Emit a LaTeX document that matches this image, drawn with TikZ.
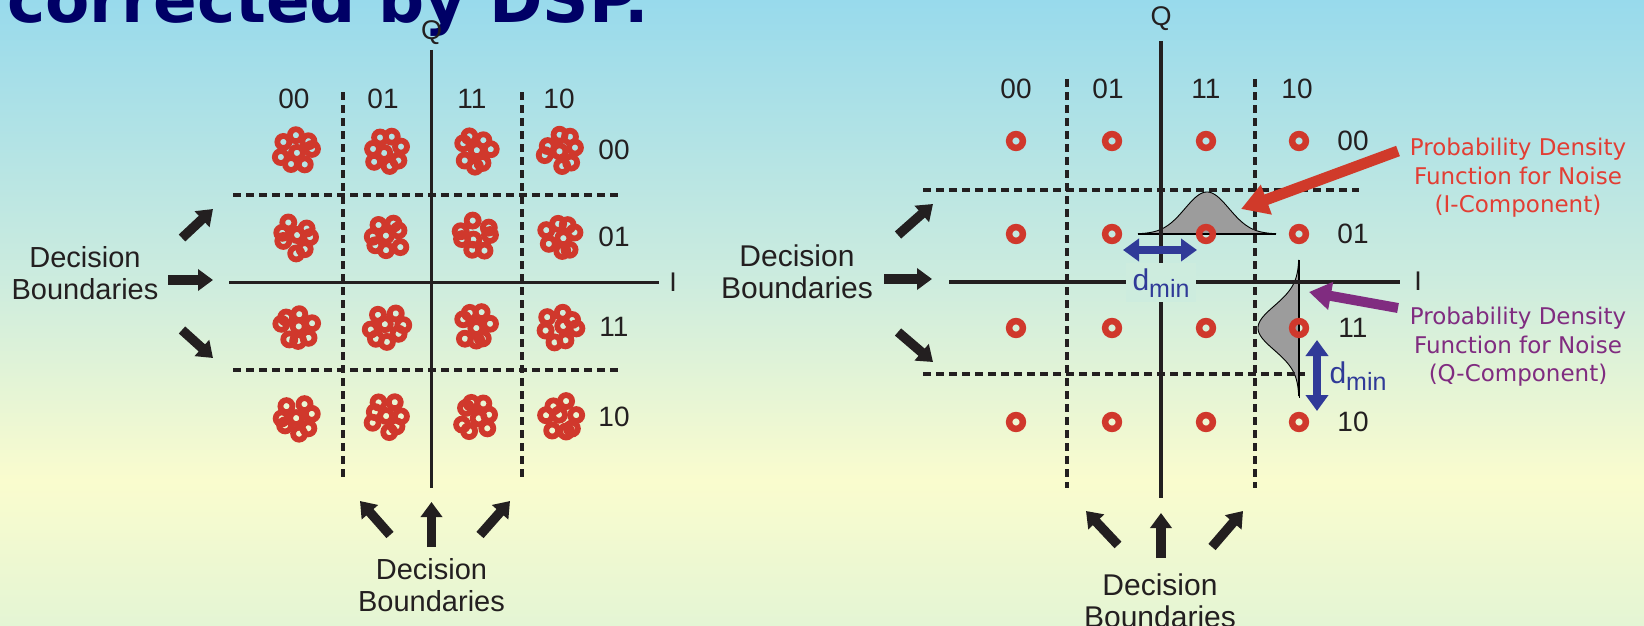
\documentclass[tikz,border=0pt]{standalone}
\usepackage{fontspec}
\setmainfont{Liberation Sans}
\newfontfamily\dvsans{DejaVu Sans}
\usetikzlibrary{arrows.meta}
\definecolor{bgT}{RGB}{152,218,236}
\definecolor{bgM}{RGB}{205,236,222}
\definecolor{bgY}{RGB}{250,252,206}
\definecolor{bgB}{RGB}{228,245,212}
\definecolor{navy}{RGB}{0,0,102}
\definecolor{ink}{RGB}{35,31,32}
\definecolor{dotred}{RGB}{208,56,44}
\definecolor{txtred}{RGB}{226,62,52}
\definecolor{arrred}{RGB}{208,58,42}
\definecolor{purp}{RGB}{128,44,128}
\definecolor{dblue}{RGB}{48,58,152}
\definecolor{pdfgray}{RGB}{156,156,156}
\newcommand\dminlbl{d\raisebox{-7pt}{\fontsize{25}{25}\selectfont min}}
\begin{document}
\begin{tikzpicture}[x=1pt,y=-1pt,
  lbl/.style={text=ink, inner sep=0pt, font=\fontsize{28}{28}\selectfont},
  axlbl/.style={text=ink, inner sep=0pt, font=\fontsize{27}{27}\selectfont},
  dbtext/.style={text=ink, inner sep=0pt, align=center, font=\fontsize{29}{31.5}\selectfont},
  dbtextR/.style={text=ink, inner sep=0pt, align=center, font=\fontsize{30}{32}\selectfont},
  axisline/.style={draw=ink, line width=3.3pt},
  bound/.style={draw=ink, line width=3.9pt, dash pattern=on 8pt off 5pt},
  fatarrow/.style={draw=ink, line width=9.5pt, -{Triangle[length=15pt,width=21pt]}},
  ring/.style={draw=dotred, line width=5.8pt},
  dotring/.style={draw=dotred, line width=6.5pt},
  pdfcurve/.style={fill=pdfgray, draw=black, line width=0.9pt},
  pdftext/.style={inner sep=0pt, align=center, font=\dvsans\fontsize{23}{28.5}\selectfont},
  dminarrow/.style={draw=dblue, line width=8pt, {Triangle[length=16pt,width=22pt]}-{Triangle[length=16pt,width=22pt]}},
  dmintext/.style={text=dblue, font=\fontsize{30}{30}\selectfont},
]
\useasboundingbox (0,0) rectangle (1644,626);
% background
\shade[top color=bgT, bottom color=bgM] (0,0) rectangle (1644,283);
\shade[top color=bgM, bottom color=bgY] (0,282) rectangle (1644,481);
\shade[top color=bgY, bottom color=bgB] (0,480) rectangle (1644,626);

% title
\node[anchor=base west, inner sep=0pt, text=navy, font=\dvsans\bfseries\fontsize{64.5}{64.5}\selectfont] (title) at (7,23) {corrected by DSP.};

%================ LEFT DIAGRAM ================
\draw[bound] (343,92) -- (343,478);
\draw[bound] (522,92) -- (522,478);
\draw[bound] (233,195) -- (619,195);
\draw[bound] (233,370) -- (619,370);
\draw[axisline] (431.5,50) -- (431.5,488);
\draw[axisline] (229,282.5) -- (659,282.5);
\node[axlbl] (qL) at (431.5,33) {Q};
\node[axlbl] (iL) at (673,282) {I};
\node[lbl] (cL1) at (294,99) {00};
\node[lbl] (cL2) at (383,99) {01};
\node[lbl] (cL3) at (472,99) {11};
\node[lbl] (cL4) at (559,99) {10};
\node[lbl] (rL1) at (614,150) {00};
\node[lbl] (rL2) at (614,237) {01};
\node[lbl] (rL3) at (614,327) {11};
\node[lbl] (rL4) at (614,417) {10};
\pgfmathsetseed{4242}
\foreach \cx in {296,387,476,561}{
  \foreach \cy in {151,237,327,417}{
    \pgfmathsetmacro\ox{\cx+3*rand}
    \pgfmathsetmacro\oy{\cy+3*rand}
    \draw[ring] (\ox,\oy) circle (6pt);
    \pgfmathsetmacro\phase{360*rnd}
    \foreach \k in {0,...,6}{
      \pgfmathsetmacro\ang{\phase+\k*51.4+rand*15}
      \pgfmathsetmacro\rad{15+rand*2}
      \draw[ring] ({\cx+\rad*cos(\ang)},{\cy+\rad*sin(\ang)}) circle (6pt);
    }
  }
}
\node[dbtext] (dbL) at (85,273) {Decision\\Boundaries};
\coordinate (lA1s) at (182,238); \coordinate (lA1e) at (213,209);
\coordinate (lA2s) at (168,280); \coordinate (lA2e) at (213,280);
\coordinate (lA3s) at (182,330); \coordinate (lA3e) at (213,358);
\draw[fatarrow] (lA1s) -- (lA1e);
\draw[fatarrow] (lA2s) -- (lA2e);
\draw[fatarrow] (lA3s) -- (lA3e);
\node[dbtext] (dbLb) at (431.5,585) {Decision\\Boundaries};
\coordinate (lB1s) at (390,535); \coordinate (lB1e) at (360,501);
\coordinate (lB2s) at (431.5,547); \coordinate (lB2e) at (431.5,502);
\coordinate (lB3s) at (480,535); \coordinate (lB3e) at (510,501);
\draw[fatarrow] (lB1s) -- (lB1e);
\draw[fatarrow] (lB2s) -- (lB2e);
\draw[fatarrow] (lB3s) -- (lB3e);

%================ RIGHT DIAGRAM ================
% noise pdfs
\filldraw[pdfcurve] plot[domain=-69:69, samples=80] ({1207+\x},{234-42*exp(-(\x*\x)/968)}) -- cycle;
\draw[black, line width=0.9pt] (1138,234) -- (1276,234);
\filldraw[pdfcurve] plot[domain=-68:68, samples=80] ({1299-41*exp(-(\x*\x)/968)},{328+\x}) -- cycle;
\draw[black, line width=0.9pt] (1299,260) -- (1299,398);

\draw[bound] (1067,79) -- (1067,488);
\draw[bound] (1255,79) -- (1255,488);
\draw[bound] (923,190) -- (1359,190);
\draw[bound] (923,374) -- (1305,374);
\draw[axisline] (1161,41) -- (1161,498);
\draw[axisline] (949,282) -- (1400,282);
\node[axlbl] (qR) at (1161,19) {Q};
\node[axlbl] (iR) at (1418,281) {I};
\node[lbl] (cR1) at (1016,89) {00};
\node[lbl] (cR2) at (1108,89) {01};
\node[lbl] (cR3) at (1206,89) {11};
\node[lbl] (cR4) at (1297,89) {10};
\node[lbl] (rR1) at (1353,141) {00};
\node[lbl] (rR2) at (1353,234) {01};
\node[lbl] (rR3) at (1353,328) {11};
\node[lbl] (rR4) at (1353,422) {10};
\foreach \px in {1016,1112,1206,1299}{
  \foreach \py in {141,234,328,422}{
    \draw[dotring] (\px,\py) circle (6.9pt);
  }
}
% d_min
\coordinate (dh1) at (1123,250); \coordinate (dh2) at (1197,250);
\draw[dminarrow] (dh1) -- (dh2);
\node[dmintext, fill=bgM, inner xsep=7pt, inner ysep=5pt, anchor=base] (dminH) at (1161,290) {\dminlbl};
\coordinate (dv1) at (1317,340); \coordinate (dv2) at (1317,411);
\draw[dminarrow] (dv1) -- (dv2);
\node[dmintext, inner sep=0pt, anchor=base] (dminV) at (1358,383) {\dminlbl};

% pdf callouts
\node[pdftext, text=txtred] (pdfI) at (1518,178) {Probability Density\\Function for Noise\\(I-Component)};
\node[pdftext, text=purp] (pdfQ) at (1518,347) {Probability Density\\Function for Noise\\(Q-Component)};
\coordinate (rpS) at (1398,151); \coordinate (rpE) at (1241,209);
\draw[draw=arrred, line width=11pt, -{Triangle[length=27pt,width=30pt]}] (rpS) -- (rpE);
\coordinate (ppS) at (1398,308); \coordinate (ppE) at (1309,292);
\draw[draw=purp, line width=10pt, -{Triangle[length=22pt,width=27pt]}] (ppS) -- (ppE);

% decision boundaries labels
\node[dbtextR] (dbR) at (797,272) {Decision\\Boundaries};
\coordinate (rA1s) at (898,235); \coordinate (rA1e) at (933,204);
\coordinate (rA2s) at (884,279); \coordinate (rA2e) at (932,279);
\coordinate (rA3s) at (898,332); \coordinate (rA3e) at (933,362);
\draw[fatarrow] (rA1s) -- (rA1e);
\draw[fatarrow] (rA2s) -- (rA2e);
\draw[fatarrow] (rA3s) -- (rA3e);
\node[dbtextR] (dbRb) at (1160,601) {Decision\\Boundaries};
\coordinate (rB1s) at (1118,545); \coordinate (rB1e) at (1086,511);
\coordinate (rB2s) at (1161,558); \coordinate (rB2e) at (1161,513);
\coordinate (rB3s) at (1212,547); \coordinate (rB3e) at (1243,511);
\draw[fatarrow] (rB1s) -- (rB1e);
\draw[fatarrow] (rB2s) -- (rB2e);
\draw[fatarrow] (rB3s) -- (rB3e);
\end{tikzpicture}
\end{document}
